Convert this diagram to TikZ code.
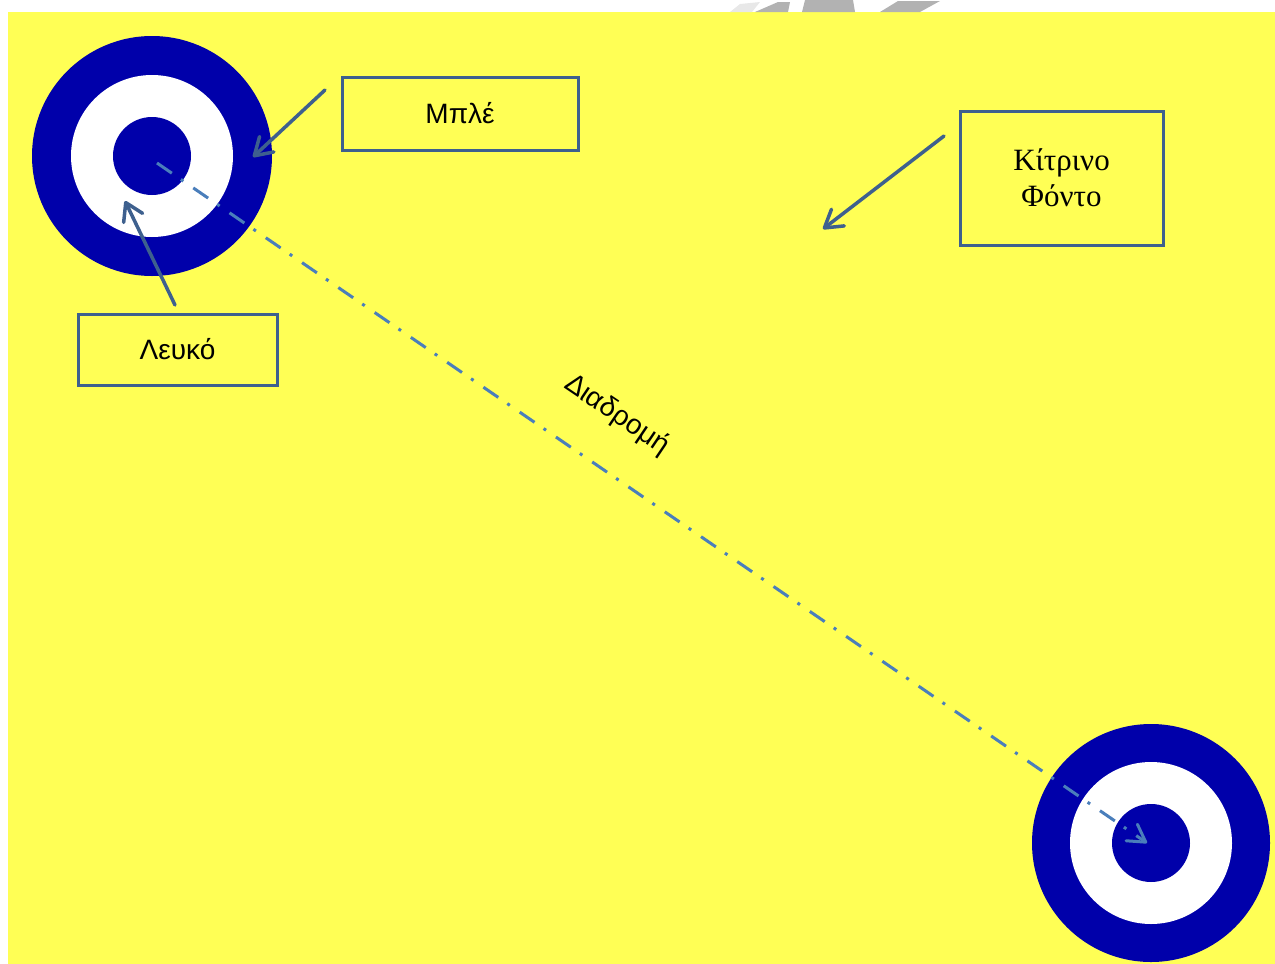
\documentclass[tikz,border=0pt]{standalone}
\usepackage{fontspec}
\setmainfont{Liberation Serif}
\setsansfont{Liberation Sans}
\usetikzlibrary{arrows.meta}
\definecolor{bgyellow}{RGB}{255,255,85}
\definecolor{tblue}{RGB}{0,0,170}
\definecolor{boxline}{RGB}{62,96,142}
\definecolor{pathblue}{RGB}{74,126,187}
\definecolor{wm}{RGB}{178,178,178}
\begin{document}
\begin{tikzpicture}[x=1pt,y=-1pt,
  ring/.style={circle, inner sep=0pt, minimum size=#1},
  lbl/.style={draw=boxline, line width=3pt, fill=bgyellow, inner sep=0pt, font=\sffamily\fontsize{28}{32}\selectfont},
  ptr/.style={draw=boxline, line width=3.5pt, line cap=round, -{Straight Barb[length=17pt,width=21pt,round]}},
  route/.style={draw=pathblue, line width=3pt, dash pattern=on 18pt off 11pt on 3pt off 12pt, -{Straight Barb[length=17pt,width=20pt,round]}},
]
\useasboundingbox (0,0) rectangle (1275,964);
\fill[bgyellow] (8,12) rectangle (1275,964);
% faint watermark slivers at the top
\fill[wm!30] (730,12) -- (740,4) -- (760,2) -- (752,12) -- cycle;
\fill[wm] (755,12) -- (778,2) -- (790,2) -- (788,12) -- cycle;
\fill[wm] (802,12) -- (805,0) -- (853,0) -- (855,12) -- cycle;
\fill[wm] (880,12) -- (898,1) -- (940,1) -- (920,12) -- cycle;

% top-left target
\node[ring=240pt, fill=tblue] (t1o) at (152,156) {};
\node[ring=162pt, fill=white] (t1w) at (152,156) {};
\node[ring=78pt, fill=tblue] (t1c) at (152,156) {};
% bottom-right target
\node[ring=238pt, fill=tblue] (t2o) at (1151,843) {};
\node[ring=162pt, fill=white] (t2w) at (1151,843) {};
\node[ring=78pt, fill=tblue] (t2c) at (1151,843) {};

% labels
\node[lbl, minimum width=236pt, minimum height=73pt] (blue) at (460,113.5) {Μπλέ};
\node[lbl, minimum width=199pt, minimum height=71pt] (white) at (177.5,349.5) {Λευκό};
\node[draw=boxline, line width=3pt, fill=bgyellow, inner sep=0pt, minimum width=203pt, minimum height=134pt, align=center,
      font=\fontsize{31}{36}\selectfont] (yellow) at (1061.5,178) {Κίτρινο\\Φόντο};
\node[font=\sffamily\fontsize{28}{32}\selectfont, rotate=-34] (route) at (617,415) {Διαδρομή};

% connectors
\coordinate (bA) at (325,90);
\coordinate (bT) at (253,157);
\coordinate (wA) at (175,305);
\coordinate (wT) at (125,201);
\coordinate (yA) at (944,136);
\coordinate (yT) at (823,229);
\coordinate (pS) at (157,163);
\coordinate (pE) at (1147,843);
\draw[ptr] (bA) -- (bT);
\draw[ptr] (wA) -- (wT);
\draw[ptr] (yA) -- (yT);
\draw[route] (pS) -- (pE);
\end{tikzpicture}
\end{document}
